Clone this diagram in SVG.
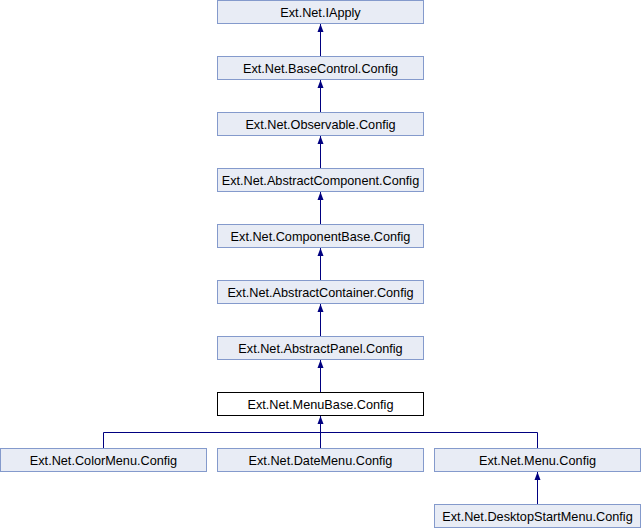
<svg xmlns="http://www.w3.org/2000/svg" width="641" height="528" viewBox="0 0 641 528">
<style>
.n rect{fill:#E8ECF5;stroke:#849ACC;stroke-width:1}
.n.cur rect{fill:#FFFFFF;stroke:#000000}
.n text{font-family:"Liberation Sans",Arial,sans-serif;font-size:12.7px;fill:#000000;text-anchor:middle}
.e{stroke:#000080;stroke-width:1;fill:none}
</style>
<g id="connectors">
<path class="e" d="M320.5,56 V24"/>
<path class="e" d="M320.5,112 V80"/>
<path class="e" d="M320.5,168 V136"/>
<path class="e" d="M320.5,224 V192"/>
<path class="e" d="M320.5,280 V248"/>
<path class="e" d="M320.5,336 V304"/>
<path class="e" d="M320.5,392 V360"/>
<path class="e" d="M320.5,448 V416"/>
<path class="e" d="M103.5,448 V432.5 H537.5 V448"/>
<path class="e" d="M537.5,504 V472"/>
<g fill="#000080">
<path d="M317.5,32 L320.5,24 L323.5,32 Z"/>
<path d="M317.5,88 L320.5,80 L323.5,88 Z"/>
<path d="M317.5,144 L320.5,136 L323.5,144 Z"/>
<path d="M317.5,200 L320.5,192 L323.5,200 Z"/>
<path d="M317.5,256 L320.5,248 L323.5,256 Z"/>
<path d="M317.5,312 L320.5,304 L323.5,312 Z"/>
<path d="M317.5,368 L320.5,360 L323.5,368 Z"/>
<path d="M317.5,424 L320.5,416 L323.5,424 Z"/>
<path d="M534.5,480 L537.5,472 L540.5,480 Z"/>
</g>
</g>
<g id="n_iapply" class="n"><rect x="217.5" y="0.5" width="206" height="23"/><text x="320.5" y="16.5">Ext.Net.IApply</text></g>
<g id="n_basecontrol" class="n"><rect x="217.5" y="56.5" width="206" height="23"/><text x="320.5" y="72.5">Ext.Net.BaseControl.Config</text></g>
<g id="n_observable" class="n"><rect x="217.5" y="112.5" width="206" height="23"/><text x="320.5" y="128.5">Ext.Net.Observable.Config</text></g>
<g id="n_abstractcomponent" class="n"><rect x="217.5" y="168.5" width="206" height="23"/><text x="320.5" y="184.5">Ext.Net.AbstractComponent.Config</text></g>
<g id="n_componentbase" class="n"><rect x="217.5" y="224.5" width="206" height="23"/><text x="320.5" y="240.5">Ext.Net.ComponentBase.Config</text></g>
<g id="n_abstractcontainer" class="n"><rect x="217.5" y="280.5" width="206" height="23"/><text x="320.5" y="296.5">Ext.Net.AbstractContainer.Config</text></g>
<g id="n_abstractpanel" class="n"><rect x="217.5" y="336.5" width="206" height="23"/><text x="320.5" y="352.5">Ext.Net.AbstractPanel.Config</text></g>
<g id="n_menubase" class="n cur"><rect x="217.5" y="392.5" width="206" height="23"/><text x="320.5" y="408.5">Ext.Net.MenuBase.Config</text></g>
<g id="n_colormenu" class="n"><rect x="0.5" y="448.5" width="206" height="23"/><text x="103.5" y="464.5">Ext.Net.ColorMenu.Config</text></g>
<g id="n_datemenu" class="n"><rect x="217.5" y="448.5" width="206" height="23"/><text x="320.5" y="464.5">Ext.Net.DateMenu.Config</text></g>
<g id="n_menu" class="n"><rect x="434.5" y="448.5" width="206" height="23"/><text x="537.5" y="464.5">Ext.Net.Menu.Config</text></g>
<g id="n_desktopstartmenu" class="n"><rect x="434.5" y="504.5" width="206" height="23"/><text x="537.5" y="520.5">Ext.Net.DesktopStartMenu.Config</text></g>
</svg>
